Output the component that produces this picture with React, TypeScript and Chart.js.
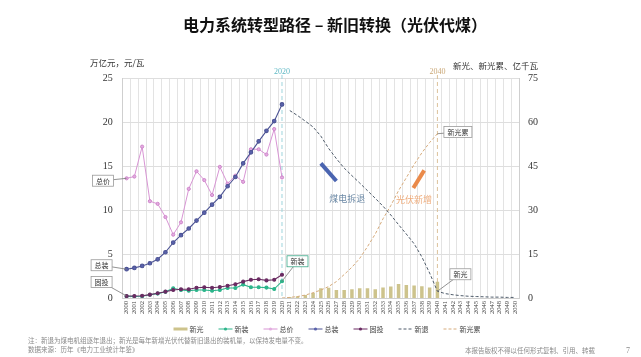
import React, { useEffect, useRef } from "react";
import { Chart, registerables } from "chart.js";
Chart.register(...registerables);

// ---------- categories ----------
const years: string[] = [];
for (let y = 2000; y <= 2050; y++) years.push(String(y));

// ---------- series (left axis: 万亿元, 元/瓦) 2000-2020 ----------
const totalPrice = [13.6, 13.8, 17.2, 11.0, 10.7, 9.2, 7.2, 8.6, 12.4, 14.4, 13.4, 11.7, 14.9, 13.0, 13.9, 13.2, 16.9, 16.9, 16.3, 19.2, 13.7];
const totalCap = [3.27, 3.42, 3.64, 3.95, 4.4, 5.2, 6.3, 7.14, 7.9, 8.8, 9.7, 10.6, 11.5, 12.7, 13.75, 15.3, 16.55, 17.8, 19.0, 20.1, 22.0];
const fixedInvest = [0.23, 0.23, 0.26, 0.38, 0.54, 0.72, 0.91, 0.99, 0.99, 1.17, 1.22, 1.17, 1.25, 1.4, 1.56, 1.86, 2.08, 2.13, 2.0, 2.08, 2.65];
const newCap = [0.19, 0.17, 0.2, 0.37, 0.5, 0.7, 1.1, 0.91, 0.83, 0.91, 0.91, 0.83, 0.91, 1.14, 1.14, 1.52, 1.22, 1.22, 1.18, 1.02, 1.9];

// ---------- series (right axis: 亿千瓦) ----------
const newPV = [0.3, 0.6, 1.0, 1.7, 3.3, 3.5, 2.7, 2.7, 3.0, 3.3, 3.3, 3.0, 3.6, 3.9, 4.8, 4.4, 4.3, 4.0, 3.6, 5.5]; // 2021-2040
const newRetire = [63.9, 62.2, 60.3, 58.3, 55.2, 51.0, 47.5, 44.3, 41.7, 39.2, 36.6, 34.0, 31.3, 28.3, 25.0, 21.8, 18.5, 14.0, 8.5, 2.3, 1.5, 1.1, 0.8, 0.6, 0.5, 0.4, 0.3, 0.3, 0.2, 0.2]; // 2021-2050
const pvCumulative = [0, 0.2, 0.5, 1.0, 1.8, 2.7, 3.9, 5.6, 8.0, 10.5, 13.5, 17.5, 21.8, 27.0, 31.5, 36.6, 41.0, 45.5, 49.5, 53.0, 56.0]; // 2020-2040

// ---------- tick labels ----------
const leftTicks = [0, 5, 10, 15, 20, 25];
const rightTicks = [0, 15, 30, 45, 60, 75];

const CJK = '"Noto Sans CJK SC", "Noto Sans", sans-serif';
const SERIF = '"Liberation Serif", "DejaVu Serif", serif';

function place(values: number[], startYear: number): (number | null)[] {
  return years.map((_, i) => {
    const k = i - (startYear - 2000);
    return k >= 0 && k < values.length ? values[k] : null;
  });
}

const overlayPlugin = {
  id: "overlay",
  beforeDatasetsDraw(chart: any) {
    const { ctx, chartArea: a, scales } = chart;
    const x = scales.x;
    const marks = [
      { year: "2020", color: "#9fd4dc", text: "#5fb8c4" },
      { year: "2040", color: "#dcc29c", text: "#caa878" },
    ];
    marks.forEach((m) => {
      const px = x.getPixelForValue(years.indexOf(m.year));
      ctx.save();
      ctx.strokeStyle = m.color;
      ctx.lineWidth = 1;
      ctx.setLineDash([4, 3]);
      ctx.beginPath();
      ctx.moveTo(px, a.top - 3);
      ctx.lineTo(px, a.bottom);
      ctx.stroke();
      ctx.setLineDash([]);
      ctx.fillStyle = m.text;
      ctx.font = `8px ${SERIF}`;
      ctx.textAlign = "center";
      ctx.textBaseline = "middle";
      ctx.fillText(m.year, px, a.top - 6);
      ctx.restore();
    });
  },
  afterDraw(chart: any) {
    const { ctx, scales } = chart;
    const x = scales.x, yL = scales.y, yR = scales.y1;
    const xi = (yr: number) => x.getPixelForValue(yr - 2000);
    ctx.save();

    // title
    ctx.fillStyle = "#111";
    ctx.font = `bold 16px ${CJK}`;
    ctx.textAlign = "center";
    ctx.textBaseline = "middle";
    ctx.fillText("电力系统转型路径 – 新旧转换（光伏代煤）", 335, 25);

    // axis units
    ctx.font = `8.5px ${CJK}`;
    ctx.fillStyle = "#333";
    ctx.textAlign = "left";
    ctx.fillText("万亿元，元/瓦", 90, 63);
    ctx.fillText("新光、新光累、亿千瓦", 453, 66);

    // thick trend strokes
    const strokes = [
      { from: [2025, 15.3], to: [2027, 13.3], color: "#4a64b0", label: "煤电拆退", lx: 2028.4, lv: 11.3, lc: "#6d8aa6" },
      { from: [2036.9, 12.5], to: [2038.3, 14.5], color: "#ea8a4a", label: "光伏新增", lx: 2037.0, lv: 11.2, lc: "#eeac7c" },
    ];
    strokes.forEach((s) => {
      ctx.strokeStyle = s.color;
      ctx.lineWidth = 4;
      ctx.lineCap = "butt";
      ctx.beginPath();
      ctx.moveTo(xi(s.from[0]), yL.getPixelForValue(s.from[1]));
      ctx.lineTo(xi(s.to[0]), yL.getPixelForValue(s.to[1]));
      ctx.stroke();
      ctx.fillStyle = s.lc;
      ctx.font = `9px ${CJK}`;
      ctx.textAlign = "center";
      ctx.fillText(s.label, xi(s.lx), yL.getPixelForValue(s.lv));
    });

    // callouts
    const callouts = [
      { text: "总价", ax: xi(2000), ay: yL.getPixelForValue(totalPrice[0]), dx: -23.5, dy: 2.4, border: "#9a9a9a" },
      { text: "总装", ax: xi(2000), ay: yL.getPixelForValue(totalCap[0]), dx: -25, dy: -4, border: "#9a9a9a" },
      { text: "固投", ax: xi(2000), ay: yL.getPixelForValue(fixedInvest[0]), dx: -25, dy: -14, border: "#9a9a9a" },
      { text: "新装", ax: xi(2020), ay: yL.getPixelForValue(newCap[20]), dx: 15.5, dy: -20, border: "#3aa888" },
      { text: "新光累", ax: xi(2040), ay: yR.getPixelForValue(pvCumulative[20]), dx: 20.5, dy: -1.7, border: "#9a9a9a" },
      { text: "新光", ax: xi(2040), ay: yR.getPixelForValue(newRetire[19]), dx: 23, dy: -17, border: "#9a9a9a" },
    ];
    callouts.forEach((c) => {
      const cx = c.ax + c.dx, cy = c.ay + c.dy;
      ctx.font = `7px ${CJK}`;
      const w = ctx.measureText(c.text).width + 7, h = 11;
      ctx.strokeStyle = "#777";
      ctx.lineWidth = 0.8;
      ctx.beginPath();
      ctx.moveTo(c.ax, c.ay);
      ctx.lineTo(cx, cy);
      ctx.stroke();
      ctx.fillStyle = "#fff";
      ctx.fillRect(cx - w / 2, cy - h / 2, w, h);
      ctx.strokeStyle = c.border;
      ctx.strokeRect(cx - w / 2, cy - h / 2, w, h);
      ctx.fillStyle = "#333";
      ctx.textAlign = "center";
      ctx.textBaseline = "middle";
      ctx.fillText(c.text, cx, cy + 0.5);
    });

    // legend
    const legendOrder = ["新光", "新装", "总价", "总装", "固投", "新退", "新光累"];
    ctx.font = `7px ${CJK}`;
    const sw = 14, gapT = 2, gapI = 15;
    const items = legendOrder.map((lbl) => {
      const ds = chart.data.datasets.find((d: any) => d.label === lbl);
      return { lbl, ds, tw: ctx.measureText(lbl).width };
    });
    const total = items.reduce((s, it) => s + sw + gapT + it.tw, 0) + gapI * (items.length - 1);
    let lx = 327 - total / 2;
    const ly = 329;
    items.forEach((it) => {
      const ds = it.ds;
      if (ds.type === "bar") {
        ctx.fillStyle = ds.backgroundColor;
        ctx.fillRect(lx, ly - 1.5, sw, 3);
      } else {
        ctx.strokeStyle = ds.borderColor;
        ctx.lineWidth = 1;
        ctx.setLineDash(ds.borderDash || []);
        ctx.beginPath();
        ctx.moveTo(lx, ly);
        ctx.lineTo(lx + sw, ly);
        ctx.stroke();
        ctx.setLineDash([]);
        if (ds.pointRadius > 0) {
          ctx.fillStyle = ds.pointBackgroundColor;
          ctx.beginPath();
          ctx.arc(lx + sw / 2, ly, 1.6, 0, Math.PI * 2);
          ctx.fill();
        }
      }
      ctx.fillStyle = "#444";
      ctx.textAlign = "left";
      ctx.textBaseline = "middle";
      ctx.fillText(it.lbl, lx + sw + gapT, ly);
      lx += sw + gapT + it.tw + gapI;
    });

    // footnotes
    ctx.fillStyle = "#8a8a8a";
    ctx.font = `6.5px ${CJK}`;
    ctx.textAlign = "left";
    ctx.fillText("注：新退为煤电机组逐年退出；新光是每年新增光伏代替新旧退出的装机量，以保持发电量不变。", 28, 341);
    ctx.fillText("数据来源：历年《电力工业统计年鉴》", 28, 350);
    ctx.textAlign = "right";
    ctx.fillText("本报告版权不得以任何形式复制、引用、转载", 595, 351);
    ctx.font = `8px ${SERIF}`;
    ctx.fillText("7", 630, 351);
    ctx.restore();
  },
};

export default function App() {
  const ref = useRef<HTMLCanvasElement>(null);
  useEffect(() => {
    document.body.style.margin = "0";
    if (!ref.current) return;
    const chart = new Chart(ref.current, {
      type: "bar",
      data: {
        labels: years,
        datasets: [
          {
            type: "bar",
            label: "新光",
            data: place(newPV, 2021),
            backgroundColor: "#cdc38c",
            yAxisID: "y1",
            barPercentage: 0.45,
            categoryPercentage: 1,
            order: 10,
          } as any,
          {
            type: "line",
            label: "新装",
            data: place(newCap, 2000),
            borderColor: "#2db58b",
            backgroundColor: "#2db58b",
            pointBackgroundColor: "#2db58b",
            pointBorderColor: "#2db58b",
            pointRadius: 1.5,
            borderWidth: 1.1,
            yAxisID: "y",
            order: 3,
          },
          {
            type: "line",
            label: "总价",
            data: place(totalPrice, 2000),
            borderColor: "#d895d4",
            backgroundColor: "#e3ade0",
            pointBackgroundColor: "#e3ade0",
            pointBorderColor: "#cf86cb",
            pointRadius: 1.6,
            borderWidth: 1,
            yAxisID: "y",
            order: 4,
          },
          {
            type: "line",
            label: "总装",
            data: place(totalCap, 2000),
            borderColor: "#4c5394",
            backgroundColor: "#5a62ac",
            pointBackgroundColor: "#5a62ac",
            pointBorderColor: "#4c5394",
            pointRadius: 1.8,
            borderWidth: 1.1,
            yAxisID: "y",
            order: 2,
          },
          {
            type: "line",
            label: "固投",
            data: place(fixedInvest, 2000),
            borderColor: "#6a2b62",
            backgroundColor: "#6a2b62",
            pointBackgroundColor: "#6a2b62",
            pointBorderColor: "#6a2b62",
            pointRadius: 1.5,
            borderWidth: 1.1,
            yAxisID: "y",
            order: 1,
          },
          {
            type: "line",
            label: "新退",
            data: place(newRetire, 2021),
            borderColor: "#4e5b6a",
            borderDash: [3, 2],
            pointRadius: 0,
            borderWidth: 1,
            yAxisID: "y1",
            order: 5,
          },
          {
            type: "line",
            label: "新光累",
            data: place(pvCumulative, 2020),
            borderColor: "#d6ab7c",
            borderDash: [3, 2],
            pointRadius: 0,
            borderWidth: 1,
            yAxisID: "y1",
            order: 6,
          },
        ],
      },
      options: {
        responsive: false,
        animation: false,
        layout: { padding: { top: 78, left: 0, right: 0, bottom: 0 } },
        plugins: { legend: { display: false }, tooltip: { enabled: false }, title: { display: false } },
        scales: {
          x: {
            type: "category",
            offset: true,
            grid: { offset: true, color: "#e3e3e3", drawTicks: false },
            border: { display: true, color: "#cfcfcf" },
            ticks: {
              autoSkip: false,
              maxRotation: 90,
              minRotation: 90,
              padding: 3,
              color: "#444",
              font: { size: 6.5, family: SERIF },
            },
            afterFit: (s: any) => { s.height = 59; },
          },
          y: {
            position: "left",
            min: 0,
            max: 25,
            afterBuildTicks: (s: any) => { s.ticks = leftTicks.map((v) => ({ value: v })); },
            grid: { color: "#dedede", drawTicks: false },
            border: { display: true, color: "#cfcfcf" },
            ticks: { padding: 10, color: "#333", font: { size: 10, family: SERIF } },
            afterFit: (s: any) => { s.width = 122.7; },
          },
          y1: {
            position: "right",
            min: 0,
            max: 75,
            afterBuildTicks: (s: any) => { s.ticks = rightTicks.map((v) => ({ value: v })); },
            grid: { display: false, drawTicks: false },
            border: { display: true, color: "#cfcfcf" },
            ticks: { padding: 9, color: "#333", font: { size: 10, family: SERIF } },
            afterFit: (s: any) => { s.width = 122; },
          },
        },
      },
      plugins: [overlayPlugin],
    } as any);
    return () => chart.destroy();
  }, []);
  return (
    <div style={{ width: 641, height: 357, background: "#fff" }}>
      <canvas ref={ref} width={641} height={357} />
    </div>
  );
}
